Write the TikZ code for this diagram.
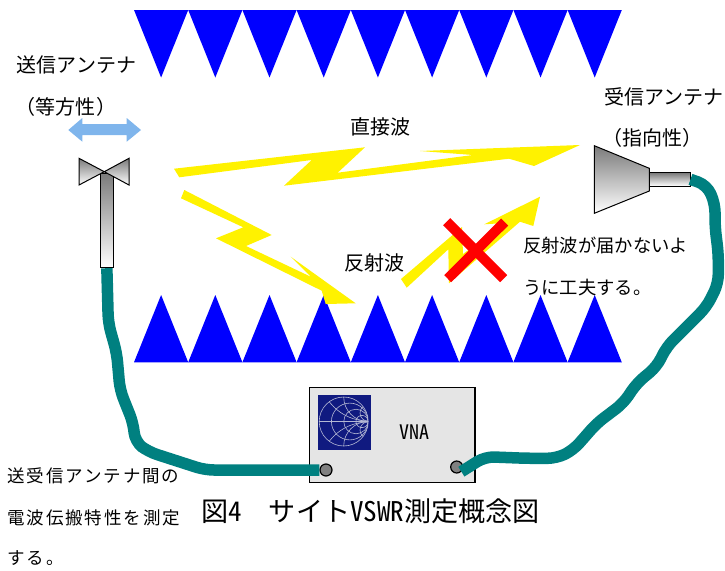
\documentclass[tikz,border=0pt]{standalone}
\usepackage{fontspec}
\setmainfont{Noto Sans CJK JP}
\newcommand{\hankaku}[1]{{\addfontfeature{CharacterWidth=Half}#1}}
\newcommand{\jpsize}[1]{\fontsize{#1}{#1}\selectfont}
\definecolor{absorber}{HTML}{0000FF}
\definecolor{cablecol}{HTML}{008080}
\definecolor{polcol}{HTML}{7FB5EC}
\definecolor{smithbg}{HTML}{101A80}
\definecolor{smithln}{HTML}{B4B8D4}
\begin{document}
\begin{tikzpicture}[
  x=1pt, y=-1pt,
  wave/.style={fill=yellow},
  metal/.style={draw=black, line width=1pt, top color=black!52, bottom color=white},
  cable/.style={draw=cablecol, line width=11.5pt, rounded corners=9pt},
  port/.style={circle, draw=black, line width=1.2pt, fill=black!50, inner sep=0pt, minimum size=12pt},
  lab/.style={inner sep=0pt, anchor=center, font=\jpsize{20}},
  note/.style={inner sep=0pt, anchor=west, font=\jpsize{18.3}},
  small/.style={inner sep=0pt, anchor=west, font=\jpsize{17.5}\addfontfeature{LetterSpace=11}}
]
\useasboundingbox (0,0) rectangle (725,570);
% absorber rows
\foreach \i in {0,...,8} {
  \fill[absorber] ({134+54.2*\i},10) -- ({188.2+54.2*\i},10) -- ({161.1+54.2*\i},77.5) -- cycle;
  \fill[absorber] ({134+54.2*\i},362.3) -- ({188.2+54.2*\i},362.3) -- ({161.1+54.2*\i},295) -- cycle;
}
% wave bolts
\fill[wave] (174,168.7) -- (365,147.3) -- (337.7,172.7) -- (473,155) -- (420,151) -- (580,145)
  -- (534,166) -- (509,158.7) -- (284,185.7) -- (311.7,160) -- (179.3,177.3) -- cycle;
\fill[wave] (184.3,190) -- (271.7,235) -- (246,246) -- (310.7,276.7) -- (290.7,256.7) -- (355.7,303.3)
  -- (325.7,304) -- (321.7,290.7) -- (216,238.3) -- (243.3,227.3) -- (181,198.3) -- cycle;
\fill[wave] (401,279) -- (462,227) -- (463,254) -- (505,223) -- (484.3,224.3) -- (540,196.7)
  -- (533.3,226) -- (520,221.7) -- (449,283.3) -- (448.3,249.3) -- (406.7,287.7) -- cycle;
% blocked path
\draw[red, line width=10pt] (446.7,221.7) -- (503.7,278.7);
\draw[red, line width=10pt] (504.7,222) -- (447.7,278.7);
% isotropic antenna
\fill[polcol] (68.3,130) -- (82.3,118) -- (82.3,124) -- (126.7,124) -- (126.7,118) -- (141,130)
  -- (126.7,141.7) -- (126.7,135) -- (82.3,135) -- (82.3,141.7) -- cycle;
\node[metal, rectangle, inner sep=0pt, minimum width=13.7pt, minimum height=94.7pt] (stem) at (106.85,220.35) {};
\draw[metal] (79,158.3) -- (104.3,171.7) -- (79,185) -- cycle;
\draw[metal] (129,158.3) -- (104.3,171.7) -- (129,185) -- cycle;
% horn antenna
\draw[metal] (594.3,145.7) -- (649.3,168.3) -- (649.3,191) -- (594.3,213.3) -- cycle;
\node[metal, rectangle, inner sep=0pt, minimum width=40.7pt, minimum height=13.3pt] (neck) at (669.65,179.35) {};
% analyzer
\node[draw=black, line width=1.3pt, fill=black!10, inner sep=0pt, minimum width=165.7pt, minimum height=95pt] (vna) at (392.15,435.2) {};
\node[fill=smithbg, inner sep=0pt, minimum width=53pt, minimum height=55pt] (smith) at (344.5,422.5) {};
\begin{scope}[smithln, line width=0.6pt]
  \draw (343.7,421.5) circle (24.5);
  \begin{scope}
    \clip (343.7,421.5) circle (24.5);
    \draw (319.2,421.5) -- (368.2,421.5);
    \draw (349.8,421.5) circle (18.4);
    \draw (356,421.5) circle (12.25);
    \draw (362,421.5) circle (6.1);
    \draw (368.2,397) circle (24.5);
    \draw (368.2,446) circle (24.5);
    \draw (368.2,372) circle (49);
    \draw (368.2,471) circle (49);
    \draw (368.2,413) circle (8.2);
    \draw (368.2,430) circle (8.2);
  \end{scope}
\end{scope}
\node[port] (portA) at (326,470) {};
\node[port] (portB) at (456.7,467) {};
% cables
\draw[cable] (stem.south) -- (108.3,323) -- (116.7,353) -- (120,390) -- (133.3,423.3) -- (135,441.7)
  -- (148.3,451.7) -- (205,470) -- (portA.west);
\draw[cable] (neck.east) -- (706.7,185) -- (715,203.3) -- (715,226.7) -- (718.3,253.3) -- (718.3,283.3)
  -- (706.7,306.7) -- (666.7,346.7) -- (656.7,366.7) -- (636.7,383.3) -- (623.3,403.3) -- (596.7,423.3)
  -- (573.3,450) -- (556.7,458.3) -- (526.7,458.3) -- (485,456.7) -- (portB.south east);
% labels
\node[lab] (txname) at (76.5,65) {送信アンテナ};
\node[lab] (txkind) at (66,107) {（等方性）};
\node[lab] (rxname) at (664,97) {受信アンテナ};
\node[lab] (rxkind) at (652,138) {（指向性）};
\node[lab] (direct) at (380,127) {直接波};
\node[lab] (reflect) at (374,263) {反射波};
\node[note] (noteA) at (523,246) {反射波が届かないよ};
\node[note] (noteB) at (523,288) {うに工夫する。};
\node[small] (lossA) at (7,476) {送受信アンテナ間の};
\node[small] (lossB) at (7,518) {電波伝搬特性を測定};
\node[small] (lossC) at (7,558.5) {する。};
\node[lab] (vnaname) at (414,432) {\hankaku{VNA}};
\node[inner sep=0pt, anchor=west, font=\jpsize{27.1}] (title) at (201,511) {図\hankaku{4}　サイト\hankaku{VSWR}測定概念図};
\end{tikzpicture}
\end{document}
